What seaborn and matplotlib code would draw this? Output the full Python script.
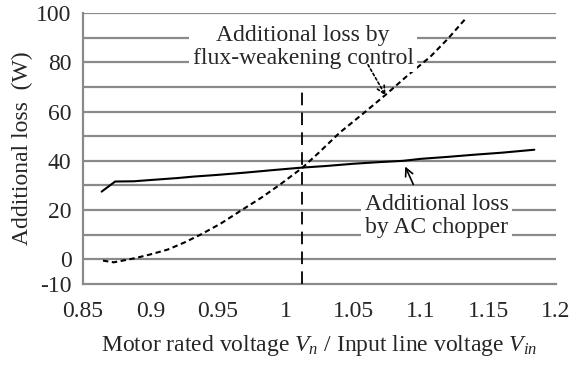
import matplotlib
matplotlib.use("Agg")
import matplotlib.pyplot as plt
import seaborn as sns
import pandas as pd

# AC chopper additional loss (solid)
chopper_x = [0.864, 0.874, 0.888, 0.90, 0.92, 0.932, 0.95, 0.97, 0.99, 1.011, 1.03, 1.05, 1.07, 1.087, 1.10, 1.12, 1.14, 1.16, 1.184]
chopper_y = [27.5, 31.6, 31.7, 32.2, 33.0, 33.6, 34.3, 35.2, 36.2, 37.2, 37.9, 38.8, 39.5, 40.0, 40.8, 41.6, 42.5, 43.3, 44.5]

# Flux-weakening control additional loss (dashed)
flux_x = [0.865, 0.873, 0.888, 0.90, 0.913, 0.925, 0.937, 0.952, 0.967, 0.982, 0.996, 1.0125, 1.025, 1.04, 1.057, 1.074, 1.09, 1.107, 1.12, 1.133]
flux_y = [-0.5, -1.2, 0.4, 2.0, 4.0, 6.8, 10.0, 14.5, 19.8, 25.0, 30.4, 37.2, 43.5, 51.4, 59.0, 66.8, 74.5, 82.2, 89.5, 97.6]

rated_ratio = 1.0125

xticks = [0.85, 0.9, 0.95, 1.0, 1.05, 1.1, 1.15, 1.2]
xticklabels = ["0.85", "0.9", "0.95", "1", "1.05", "1.1", "1.15", "1.2"]
yticks = [-10, 0, 10, 20, 30, 40, 50, 60, 70, 80, 90, 100]
yticklabels = ["-10", "0", "", "20", "", "40", "", "60", "", "80", "", "100"]

sns.set_style("white")
plt.rcParams['font.family'] = ['Liberation Serif', 'DejaVu Serif']
plt.rcParams['mathtext.fontset'] = 'custom'
plt.rcParams['mathtext.rm'] = 'Liberation Serif'
plt.rcParams['mathtext.it'] = 'Liberation Serif:italic'

FS = 17

fig = plt.figure(figsize=(5.84, 3.65), dpi=100)
ax = fig.add_axes([0.1416, 0.2219, 0.952 - 0.1416, 0.9644 - 0.2219])

grid_c = '#8a8a8a'
for v in yticks[1:]:
    ax.axhline(v, color=grid_c, lw=1.6, zorder=1)

df_c = pd.DataFrame({'x': chopper_x, 'y': chopper_y})
df_f = pd.DataFrame({'x': flux_x, 'y': flux_y})
sns.lineplot(data=df_c, x='x', y='y', ax=ax, color='black', lw=1.5, zorder=3)
sns.lineplot(data=df_f, x='x', y='y', ax=ax, color='black', lw=1.5, zorder=3,
             dashes=False)
ax.lines[-1].set_dashes((2.6, 1.7))

ax.plot([rated_ratio, rated_ratio], [-10, 68], color='black', lw=1.3,
        dashes=(7, 4), zorder=3)

ax.set_xlim(0.85, 1.2)
ax.set_ylim(-10, 100)
ax.set_xticks(xticks)
ax.set_xticklabels(xticklabels)
ax.set_yticks(yticks)
ax.set_yticklabels(yticklabels)

for s in ['top', 'right']:
    ax.spines[s].set_visible(False)
for s in ['left', 'bottom']:
    ax.spines[s].set_color(grid_c)
    ax.spines[s].set_linewidth(1.6)
ax.tick_params(axis='both', which='major', direction='out', length=5,
               width=1.6, color=grid_c, labelsize=FS, pad=3)
ax.tick_params(axis='x', pad=7)

ax.set_xlabel(r"Motor rated voltage $V_n$ / Input line voltage $V_{in}$",
              fontsize=FS, labelpad=8)
ax.set_ylabel("Additional loss  (W)", fontsize=FS, labelpad=2)

box = dict(facecolor='white', edgecolor='none', pad=2.5)
ax.text(1.013, 86.3, "Additional loss by\nflux-weakening control", ha='center',
        va='center', fontsize=FS, bbox=box, zorder=4, linespacing=1.12)
ax.text(1.112, 17.5, "Additional loss\nby AC chopper", ha='center',
        va='center', fontsize=FS, bbox=box, zorder=4, linespacing=1.12)

ax.annotate("", xy=(1.074, 66.5), xytext=(1.061, 79),
            arrowprops=dict(arrowstyle='->', color='black', lw=1.2,
                            linestyle=(0, (1.5, 1.5)), mutation_scale=14,
                            shrinkA=0, shrinkB=0), zorder=5)
ax.annotate("", xy=(1.0885, 37.7), xytext=(1.0945, 30.4),
            arrowprops=dict(arrowstyle='->', color='black', lw=1.2,
                            mutation_scale=14, shrinkA=0, shrinkB=0), zorder=5)

fig.savefig("out.png", dpi=100)
